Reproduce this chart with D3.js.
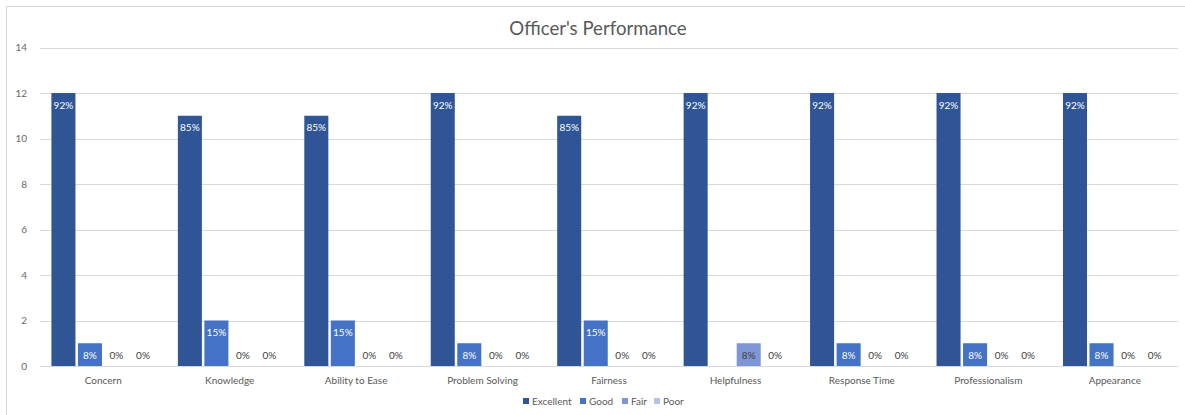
<!DOCTYPE html>
<html><head><meta charset="utf-8">
<script src="https://cdn.jsdelivr.net/npm/d3@7"></script>
<style>
html,body{margin:0;padding:0;background:#fff;}
svg{display:block;font-family:Lato,"Open Sans",sans-serif;}
</style></head>
<body>
<svg id="chart" width="1185" height="415"></svg>
<script>
const categories = ["Concern","Knowledge","Ability to Ease","Problem Solving","Fairness","Helpfulness","Response Time","Professionalism","Appearance"];
const seriesNames = ["Excellent","Good","Fair","Poor"];
const excellent = [12,11,11,12,11,12,12,12,12];
const good      = [1,2,2,1,2,null,1,1,1];
const fair      = [0,0,0,0,0,1,0,0,0];
const poor      = [0,0,0,0,0,0,0,0,0];
const excellentLabels = ["92%","85%","85%","92%","85%","92%","92%","92%","92%"];
const goodLabels      = ["8%","15%","15%","8%","15%",null,"8%","8%","8%"];
const fairLabels      = ["0%","0%","0%","0%","0%","8%","0%","0%","0%"];
const poorLabels      = ["0%","0%","0%","0%","0%","0%","0%","0%","0%"];
const yTicks = [0,2,4,6,8,10,12,14];
const colors = ["#2F5597","#4472C4","#7F96D6","#B4C3E8"];

const values = [excellent, good, fair, poor];
const labels = [excellentLabels, goodLabels, fairLabels, poorLabels];

const svg = d3.select("#chart");
const W = 1185, H = 415;
const plot = {left:40, right:1178, top:47.5, bottom:366};

// chart border
svg.append("rect").attr("x",6.5).attr("y",6.5).attr("width",W+10).attr("height",H+10)
  .attr("fill","#fff").attr("stroke","#D9D9D9").attr("stroke-width",1);

const y = d3.scaleLinear().domain([0,14]).range([plot.bottom, plot.top]);
const x0 = d3.scaleBand().domain(categories).range([plot.left, plot.right]).paddingInner(0).paddingOuter(0);
const x1 = d3.scaleBand().domain(seriesNames).range([0, x0.bandwidth()]).paddingInner(0.094).paddingOuter(0.43);

// gridlines
svg.append("g").selectAll("line").data(yTicks).join("line")
  .attr("x1",plot.left).attr("x2",plot.right)
  .attr("y1",d=>Math.round(y(d))+0.5).attr("y2",d=>Math.round(y(d))+0.5)
  .attr("stroke","#D9D9D9").attr("stroke-width",1);

// y tick labels
svg.append("g").selectAll("text").data(yTicks).join("text")
  .attr("x",27).attr("y",d=>y(d)).attr("dy","0.35em")
  .attr("text-anchor","end").attr("font-size",10).attr("fill","#666666")
  .text(d=>d);

// bars
const flat = [];
categories.forEach((c,i)=>{
  seriesNames.forEach((s,j)=>{
    flat.push({c, s, j, v: values[j][i], l: labels[j][i]});
  });
});

const g = svg.append("g");
g.selectAll("rect").data(flat.filter(d=>d.v!=null && d.v>0)).join("rect")
  .attr("x",d=>x0(d.c)+x1(d.s))
  .attr("width",x1.bandwidth())
  .attr("y",d=>y(d.v))
  .attr("height",d=>y(0)-y(d.v))
  .attr("fill",d=>colors[d.j]);

// data labels
g.selectAll("text").data(flat.filter(d=>d.l!=null)).join("text")
  .attr("x",d=>x0(d.c)+x1(d.s)+x1.bandwidth()/2)
  .attr("y",d=>Math.min(y(d.v)+12, y(0)-11))
  .attr("dy","0.35em")
  .attr("text-anchor","middle").attr("font-size",10)
  .attr("fill",d=>(d.v>0 && d.j<2)?"#FFFFFF":"#404040")
  .text(d=>d.l);

// category labels
svg.append("g").selectAll("text").data(categories).join("text")
  .attr("x",d=>x0(d)+x0.bandwidth()/2).attr("y",380).attr("dy","0.35em")
  .attr("text-anchor","middle").attr("font-size",10).attr("fill","#595959")
  .text(d=>d);

// title
svg.append("text").attr("x",598).attr("y",28).attr("dy","0.35em")
  .attr("text-anchor","middle").attr("font-size",18.6).attr("fill","#595959")
  .text("Officer's Performance");

// legend
const legendX = [523,580,622,654];
const lg = svg.append("g").selectAll("g").data(seriesNames).join("g")
  .attr("transform",(d,i)=>`translate(${legendX[i]},401)`);
lg.append("rect").attr("x",0).attr("y",-3).attr("width",6).attr("height",6)
  .attr("fill",(d,i)=>colors[i]);
lg.append("text").attr("x",9).attr("y",0).attr("dy","0.35em")
  .attr("font-size",10).attr("fill","#595959").text(d=>d);
</script>
</body></html>
